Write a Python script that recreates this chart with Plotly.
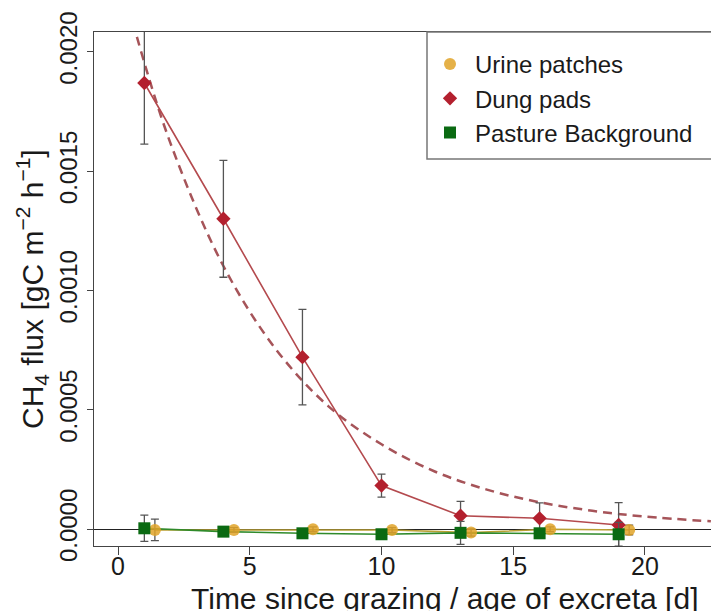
import plotly.graph_objects as go

# Sampling days after grazing (urine points are offset slightly to the right)
days = [1, 4, 7, 10, 13, 16, 19]
urine_days = [1.4, 4.4, 7.4, 10.4, 13.4, 16.4, 19.4]

# CH4 flux means and standard errors [gC m-2 h-1]
dung_flux = [0.001869, 0.001300, 0.000720, 0.000182, 0.0000558, 0.0000448, 0.0000168]
dung_se = [0.000256, 0.000245, 0.000200, 0.000048, 0.000060, 0.000065, 0.000094]

urine_flux = [-0.000004, -0.000004, -0.000001, -0.000004, -0.000015, -0.000001, -0.000004]
urine_se = [0.000045, 0.000010, 0.000010, 0.000010, 0.000015, 0.000010, 0.000020]

pasture_flux = [0.000003, -0.000011, -0.000018, -0.000022, -0.000016, -0.000018, -0.000022]
pasture_se = [0.000055, 0.000010, 0.000010, 0.000010, 0.000048, 0.000010, 0.000050]

# Exponential decay fit for dung pads
fit_days = [0, 0.67, 2, 4, 6, 8, 10, 12, 14, 16, 18, 20, 22.5]
fit_flux = [0.002365, 0.002080, 0.001614, 0.001102, 0.000752, 0.000513, 0.000355,
            0.000242, 0.000165, 0.000112, 0.0000765, 0.0000520, 0.0000322]

x_ticks = [0, 5, 10, 15, 20]
y_ticks = [0.0, 0.0005, 0.0010, 0.0015, 0.0020]
y_tick_labels = ["0.0000", "0.0005", "0.0010", "0.0015", "0.0020"]

FONT = "Liberation Sans, Arial, sans-serif"
ERR_COL = "#555555"

series = [
    dict(name="Urine patches", x=urine_days, y=urine_flux, se=urine_se,
         line="#B9A033", symbol="circle", size=12, color="rgba(224,163,40,0.85)"),
    dict(name="Dung pads", x=days, y=dung_flux, se=dung_se,
         line="#B44A4E", symbol="diamond", size=11, color="#B3202E"),
    dict(name="Pasture Background", x=days, y=pasture_flux, se=pasture_se,
         line="#2F8A2A", symbol="square", size=12, color="#0A6A12"),
]

fig = go.Figure()

fig.add_trace(go.Scatter(
    x=fit_days, y=fit_flux, mode="lines", line_shape="spline",
    line=dict(color="#A65459", width=2.5, dash="9px,6px"),
    showlegend=False, hoverinfo="skip",
))

for s in series:
    # connecting line (kept out of the legend so the key shows symbols only)
    fig.add_trace(go.Scatter(
        x=s["x"], y=s["y"], mode="lines", legendgroup=s["name"], showlegend=False,
        line=dict(color=s["line"], width=1.6), hoverinfo="skip",
    ))
for s in series:
    fig.add_trace(go.Scatter(
        x=s["x"], y=s["y"], mode="markers", name=s["name"], legendgroup=s["name"],
        marker=dict(symbol=s["symbol"], size=s["size"], color=s["color"]),
        error_y=dict(type="data", array=s["se"], color=ERR_COL, thickness=1.3, width=4),
    ))

L, R, T, B = 94, 0, 32, 65
W, H = 711, 611
pw, ph = W - L - R, H - T - B


def px_x(p):
    return (p - L) / pw


def px_y(p):
    return (H - B - p) / ph


fig.update_layout(
    width=W, height=H,
    margin=dict(l=L, r=R, t=T, b=B),
    paper_bgcolor="white", plot_bgcolor="white",
    font=dict(family=FONT, size=24, color="#1a1a1a"),
    xaxis=dict(
        range=[-0.911, 22.505], tickvals=x_ticks, ticks="outside", ticklen=8,
        tickcolor="#444", tickwidth=1.2, showline=True, linecolor="#444", linewidth=1.2,
        mirror=True, showgrid=False, zeroline=False,
        tickfont=dict(size=25), ticklabelstandoff=-10,
    ),
    yaxis=dict(
        range=[-0.0000712, 0.0020826], tickvals=y_ticks, ticktext=y_tick_labels,
        tickangle=-90, ticks="outside", ticklen=6, tickcolor="#444", tickwidth=1.2,
        showline=True, linecolor="#444", linewidth=1.2, mirror=False,
        showgrid=False, zeroline=True, zerolinecolor="#222", zerolinewidth=1.2,
        tickfont=dict(size=24),
    ),
    legend=dict(
        x=px_x(425), y=px_y(42), xanchor="left", yanchor="top",
        bgcolor="rgba(0,0,0,0)", borderwidth=0,
        font=dict(size=24), tracegroupgap=0, itemwidth=40,
    ),
    shapes=[dict(
        type="rect", xref="paper", yref="paper",
        x0=px_x(427), x1=1.1, y0=px_y(159), y1=1.0,
        line=dict(color="#777", width=1.5), fillcolor="rgba(0,0,0,0)",
    )],
    annotations=[
        dict(text="Time since grazing / age of excreta [d]", xref="paper", yref="paper",
             x=px_x(444), y=px_y(598), xanchor="center", yanchor="middle",
             showarrow=False, font=dict(size=30)),
        dict(text="CH<sub>4</sub> flux [gC m<sup>\u22122</sup> h<sup>\u22121</sup>]",
             xref="paper", yref="paper", x=px_x(32), y=0.5, textangle=-90,
             xanchor="center", yanchor="middle", showarrow=False, font=dict(size=30)),
    ],
)

fig.write_html("out.html")
